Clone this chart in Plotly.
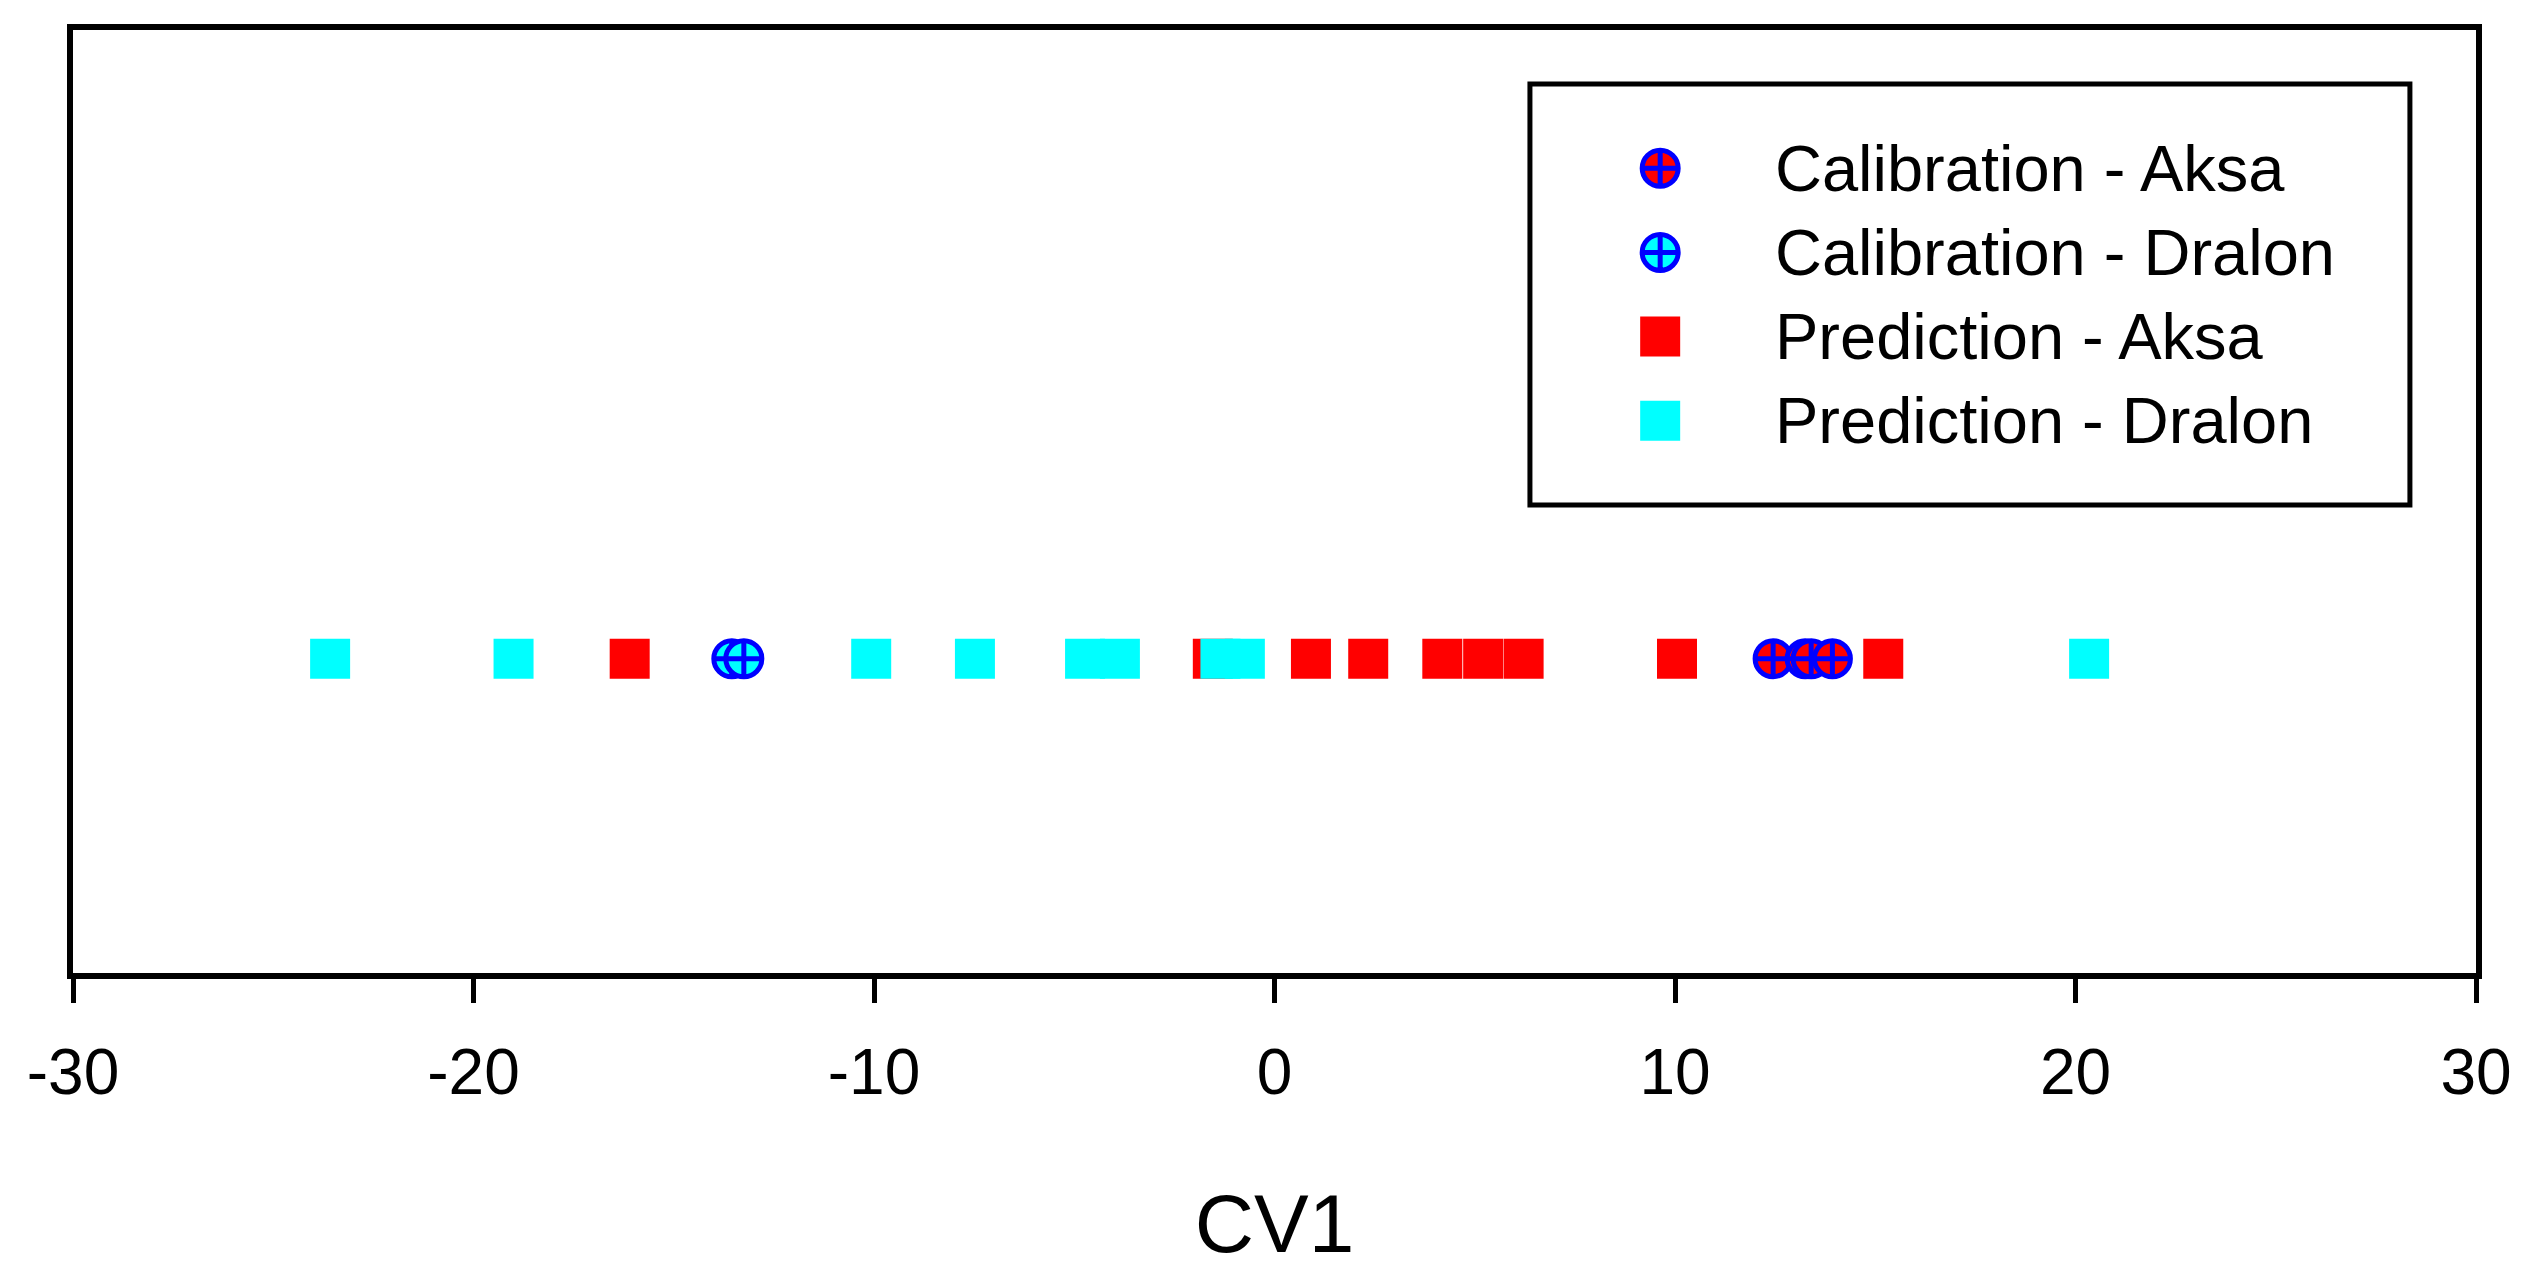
import plotly.graph_objects as go

# CV1 scores, one list per group
cal_aksa_cv1 = [12.45, 13.25, 13.4, 13.93]
cal_dralon_cv1 = [-13.55, -13.25]
pred_aksa_cv1 = [-16.1, -1.54, 0.91, 2.34, 4.19, 5.21, 6.22, 10.05, 15.2]
pred_dralon_cv1 = [-23.58, -19.0, -10.07, -7.48, -4.73, -3.86, -1.35, -0.74, 20.34]

series_names = ['Calibration - Aksa', 'Calibration - Dralon',
                'Prediction - Aksa', 'Prediction - Dralon']
x_ticks = [-30, -20, -10, 0, 10, 20, 30]

FONT = 'Liberation Sans, Arial, sans-serif'

styles = [
    dict(symbol='circle-cross', size=36, color='#ff0000', line=dict(color='#0000ff', width=5)),
    dict(symbol='circle-cross', size=36, color='#00ffff', line=dict(color='#0000ff', width=5)),
    dict(symbol='square', size=40, color='#ff0000', line=dict(width=0)),
    dict(symbol='square', size=40, color='#00ffff', line=dict(width=0)),
]
groups = [cal_aksa_cv1, cal_dralon_cv1, pred_aksa_cv1, pred_dralon_cv1]

fig = go.Figure()
for name, vals, st in zip(series_names, groups, styles):
    fig.add_trace(go.Scatter(
        x=vals, y=[1] * len(vals), mode='markers', name=name,
        marker=st, showlegend=False, cliponaxis=False,
    ))

# hand made legend on its own small axes, so the keys keep full size
annotations = []
for i, (name, st) in enumerate(zip(series_names, styles)):
    fig.add_trace(go.Scatter(
        x=[0.148], y=[i], mode='markers', marker=st,
        xaxis='x2', yaxis='y2', showlegend=False, hoverinfo='skip',
    ))
    annotations.append(dict(
        x=0.276, y=i, xref='x2', yref='y2', text=name, showarrow=False,
        xanchor='left', yanchor='middle',
        font=dict(family=FONT, size=65, color='black'),
    ))

# page body has an 8px margin, so the figure is a bit smaller than the window
fig.update_layout(
    width=2515,
    height=1261,
    margin=dict(l=65, r=47, t=22, b=296),
    plot_bgcolor='white',
    paper_bgcolor='white',
    font=dict(family=FONT, color='black'),
    xaxis=dict(
        range=[-30, 30],
        tickvals=x_ticks,
        ticktext=[str(t) for t in x_ticks],
        ticks='outside', ticklen=24, tickwidth=5, tickcolor='black',
        showline=True, linewidth=6, linecolor='black', mirror=True,
        showgrid=False, zeroline=False,
        tickfont=dict(family=FONT, size=64),
        ticklabelstandoff=14,
        title=dict(text='CV1', font=dict(family=FONT, size=82), standoff=90),
    ),
    yaxis=dict(
        range=[0, 3],
        showticklabels=False, ticks='',
        showline=True, linewidth=6, linecolor='black', mirror=True,
        showgrid=False, zeroline=False,
    ),
    xaxis2=dict(domain=[0.6063, 0.9725], range=[0, 1], anchor='y2', visible=False),
    yaxis2=dict(domain=[0.4963, 0.9427], range=[4, -1], anchor='x2', visible=False),
    shapes=[dict(type='rect', xref='x2 domain', yref='y2 domain',
                 x0=0, x1=1, y0=0, y1=1, line=dict(color='black', width=5))],
    annotations=annotations,
    showlegend=False,
)

fig.write_html('out.html')
